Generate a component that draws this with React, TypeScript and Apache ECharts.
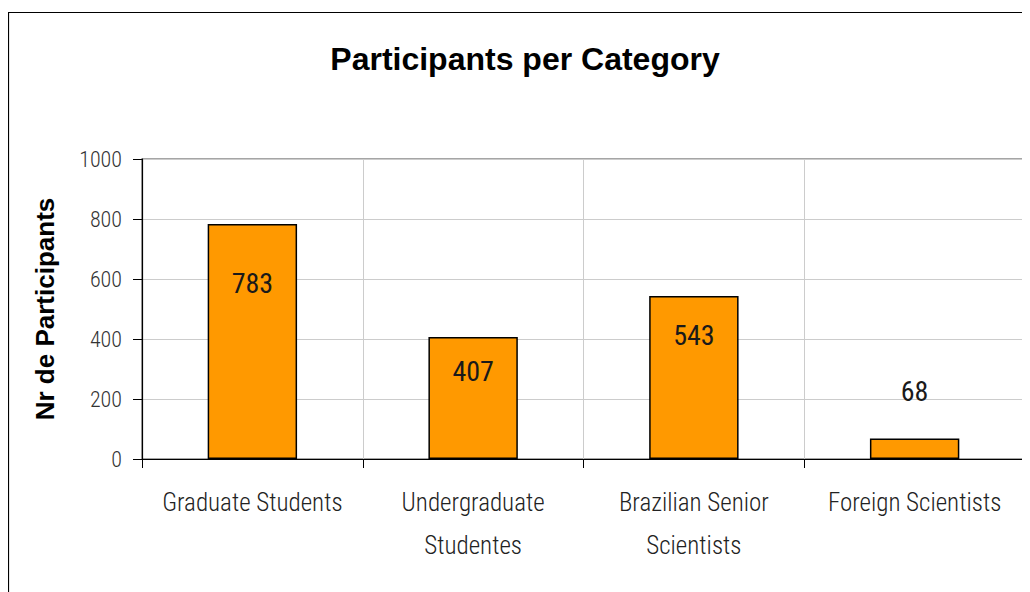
import React, { useEffect, useRef } from "react";
import * as echarts from "echarts";

const categories = [
  "Graduate Students",
  "Undergraduate\nStudentes",
  "Brazilian Senior\nScientists",
  "Foreign Scientists",
];
const participants = [783, 407, 543, 68];
const labelPositions = ["insideTop", "insideTop", "insideTop", "top"];
const labelDistances = [45, 21, 25, 33];

const NARROW = "'Liberation Sans Narrow', 'Arial Narrow', 'Roboto Condensed', 'Liberation Sans', sans-serif";
const BOLD = "'Liberation Sans', Arial, sans-serif";

export default function App() {
  const ref = useRef<HTMLDivElement>(null);
  useEffect(() => {
    if (!ref.current) return;
    const chart = echarts.init(ref.current, undefined, { renderer: "svg" });
    chart.setOption({
      animation: false,
      backgroundColor: "#ffffff",
      title: {
        text: "Participants per Category",
        left: 512,
        textAlign: "center",
        top: 30,
        textStyle: { fontFamily: BOLD, fontWeight: "bold", fontSize: 32, color: "#000" },
      },
      graphic: [
        {
          type: "rect",
          shape: { x: 0.5, y: 4.5, width: 1040, height: 600 },
          style: { fill: "none", stroke: "#000", lineWidth: 1.2 },
          silent: true,
          z: -1,
        },
      ],
      grid: {
        left: 134,
        top: 151,
        right: 5,
        bottom: 133,
        show: true,
        borderColor: "#888",
        borderWidth: 1.5,
        containLabel: false,
      },
      xAxis: {
        type: "category",
        data: categories,
        boundaryGap: true,
        axisLine: { show: true, lineStyle: { color: "#000", width: 1.2 } },
        axisTick: { show: true, length: 9, lineStyle: { color: "#000" } },
        splitLine: { show: true, lineStyle: { color: "#ccc", width: 1 } },
        axisLabel: {
          fontFamily: NARROW,
          fontSize: 25,
          fontWeight: 300,
          color: "#222",
          lineHeight: 43,
          margin: 22,
          interval: 0,
        },
      },
      yAxis: {
        type: "value",
        min: 0,
        max: 1000,
        interval: 200,
        name: "Nr de Participants",
        nameLocation: "middle",
        nameRotate: 90,
        nameGap: 84,
        nameTextStyle: { fontFamily: BOLD, fontWeight: "bold", fontSize: 26, color: "#000" },
        axisLine: { show: true, lineStyle: { color: "#000", width: 1.2 } },
        axisTick: { show: true, length: 9, inside: false, lineStyle: { color: "#000" } },
        splitLine: { show: true, lineStyle: { color: "#ccc", width: 1 } },
        axisLabel: {
          fontFamily: NARROW,
          fontSize: 22,
          fontWeight: 300,
          color: "#333",
          margin: 20,
          formatter: (v: number) => String(v),
        },
      },
      series: [
        {
          type: "bar",
          data: participants.map((v, i) => ({
            value: v,
            label: { position: labelPositions[i], distance: labelDistances[i] },
          })),
          barWidth: "40.5%",
          itemStyle: { color: "#FF9900", borderColor: "#000", borderWidth: 1.5 },
          label: {
            show: true,
            fontFamily: NARROW,
            fontSize: 28,
            fontWeight: "normal",
            color: "#1a1a1a",
          },
        },
      ],
    });
    return () => chart.dispose();
  }, []);
  return <div ref={ref} style={{ width: 1022, height: 584 }} />;
}
